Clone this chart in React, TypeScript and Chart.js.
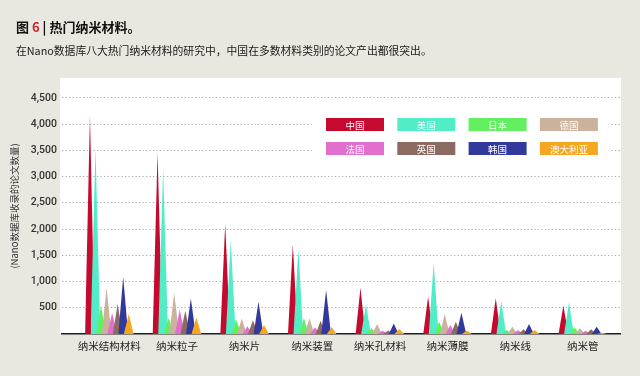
import React, { useEffect, useRef } from 'react';
import { Chart, registerables } from 'chart.js';

Chart.register(...registerables);

// ---- data ----
const categories = ['纳米结构材料', '纳米粒子', '纳米片', '纳米装置', '纳米孔材料', '纳米薄膜', '纳米线', '纳米管'];
const countries = ['中国', '美国', '日本', '德国', '法国', '英国', '韩国', '澳大利亚'];
const china = [4160, 3460, 2100, 1700, 880, 710, 680, 545];
const usa = [3540, 3160, 1790, 1620, 565, 1360, 630, 605];
const japan = [540, 310, 270, 300, 110, 235, 76, 128];
const germany = [880, 780, 290, 300, 190, 380, 140, 108];
const france = [400, 460, 150, 130, 60, 170, 76, 63];
const uk = [570, 445, 260, 254, 65, 235, 90, 90];
const korea = [1090, 675, 616, 840, 200, 406, 190, 140];
const australia = [380, 315, 170, 130, 95, 65, 76, 25];
const seriesValues = [china, usa, japan, germany, france, uk, korea, australia];
const yTickValues = [500, 1000, 1500, 2000, 2500, 3000, 3500, 4000, 4500];

const colors = ['#c6092f', '#52ecc6', '#62f060', '#cbb29c', '#e06fce', '#8b6b61', '#33399c', '#f5a722'];
const BG = '#e8e7e0';

const panelPlugin = {
  id: 'panel',
  beforeDraw(chart: any) {
    const { ctx, chartArea: a } = chart;
    ctx.save();
    ctx.fillStyle = '#ffffff';
    ctx.fillRect(a.left - 2, a.top, a.right - a.left + 3, a.bottom - a.top);
    ctx.restore();
  },
};

const boxLegendPlugin = {
  id: 'boxLegend',
  beforeDatasetsDraw(chart: any) {
    const { ctx, chartArea: a } = chart;
    ctx.save();
    ctx.fillStyle = '#ffffff';
    ctx.fillRect(a.right - 307, a.top + 30, 297, 58);
    const boxW = 58;
    const boxH = 13;
    ctx.font = '9.5px "Noto Sans CJK SC", sans-serif';
    ctx.textAlign = 'center';
    ctx.textBaseline = 'middle';
    countries.forEach((name, i) => {
      const col = i % 4;
      const row = Math.floor(i / 4);
      const x = a.right - 294 + col * 71.3;
      const y = a.top + 40 + row * 24;
      ctx.fillStyle = colors[i];
      ctx.fillRect(x, y, boxW, boxH);
      ctx.fillStyle = '#ffffff';
      ctx.fillText(name, x + boxW / 2, y + boxH / 2 + 0.5);
    });
    ctx.restore();
  },
};

export default function App() {
  const ref = useRef<HTMLCanvasElement>(null);

  useEffect(() => {
    document.body.style.margin = '0';
    const HW = 0.072;
    const STEP = 0.082;
    const datasets = seriesValues.map((vals, s) => {
      const off = (s - 3.5) * STEP;
      const data: { x: number; y: number }[] = [];
      vals.forEach((v, k) => {
        data.push({ x: k + off - HW, y: 0 }, { x: k + off, y: v }, { x: k + off + HW, y: 0 });
      });
      return {
        label: countries[s],
        data,
        backgroundColor: colors[s],
        borderColor: 'rgba(0,0,0,0)',
        borderWidth: 0,
        pointRadius: 0,
        pointHoverRadius: 0,
        fill: 'origin',
        tension: 0,
        order: 7 - s,
      };
    });

    const chart = new Chart(ref.current as HTMLCanvasElement, {
      type: 'line',
      data: { datasets: datasets as any },
      options: {
        responsive: false,
        animation: false,
        events: [],
        layout: { padding: { top: 78, right: 20, bottom: 12, left: 0 } },
        plugins: { legend: { display: false }, tooltip: { enabled: false }, title: { display: false } },
        scales: {
          x: {
            type: 'linear',
            min: -0.7,
            max: 7.55,
            afterBuildTicks: (scale: any) => {
              scale.ticks = categories.map((_, i) => ({ value: i }));
            },
            afterFit: (scale: any) => {
              scale.height = 30;
            },
            ticks: {
              autoSkip: false,
              maxRotation: 0,
              padding: 6,
              color: '#222',
              font: { family: '"Noto Sans CJK SC", sans-serif', size: 10.5 },
              callback: (v: any) => categories[v] ?? '',
            },
            grid: { display: false, drawTicks: false },
            border: { display: true, color: '#1e1e1e', width: 1.5 },
          },
          y: {
            type: 'linear',
            min: 0,
            max: 4880,
            afterBuildTicks: (scale: any) => {
              scale.ticks = yTickValues.map((v) => ({ value: v }));
            },
            afterFit: (scale: any) => {
              scale.width = 62;
            },
            ticks: {
              padding: 5,
              color: '#333',
              font: { family: 'Roboto, sans-serif', size: 10.5, weight: '500' as any },
              callback: (v: any) => Number(v).toLocaleString('en-US'),
            },
            grid: { color: '#a8a8a8', lineWidth: 1, drawTicks: false },
            border: { display: false, dash: [1.2, 2.3] },
            title: {
              display: true,
              text: '(Nano数据库收录的论文数量)',
              color: '#333',
              font: { family: '"Noto Sans CJK SC", sans-serif', size: 9.5 },
              padding: { top: 9, bottom: 0 },
            },
          },
        },
      },
      plugins: [panelPlugin, boxLegendPlugin],
    });
    return () => chart.destroy();
  }, []);

  return (
    <div style={{ position: 'relative', width: 640, height: 376, background: BG, overflow: 'hidden' }}>
      <canvas ref={ref} width={640} height={376} style={{ position: 'absolute', left: 0, top: 0 }} />
      <div
        style={{
          position: 'absolute',
          left: 16,
          top: 18,
          fontFamily: '"Noto Sans CJK SC", sans-serif',
          fontWeight: 700,
          fontSize: 13,
          lineHeight: '18px',
          color: '#111',
          whiteSpace: 'nowrap',
        }}
      >
        图 <span style={{ color: '#d3202c' }}>6</span> | 热门纳米材料。
      </div>
      <div
        style={{
          position: 'absolute',
          left: 16,
          top: 42,
          fontFamily: '"Noto Sans CJK SC", sans-serif',
          fontSize: 10.8,
          lineHeight: '16px',
          color: '#1a1a1a',
          whiteSpace: 'nowrap',
        }}
      >
        在Nano数据库八大热门纳米材料的研究中，中国在多数材料类别的论文产出都很突出。
      </div>
    </div>
  );
}
